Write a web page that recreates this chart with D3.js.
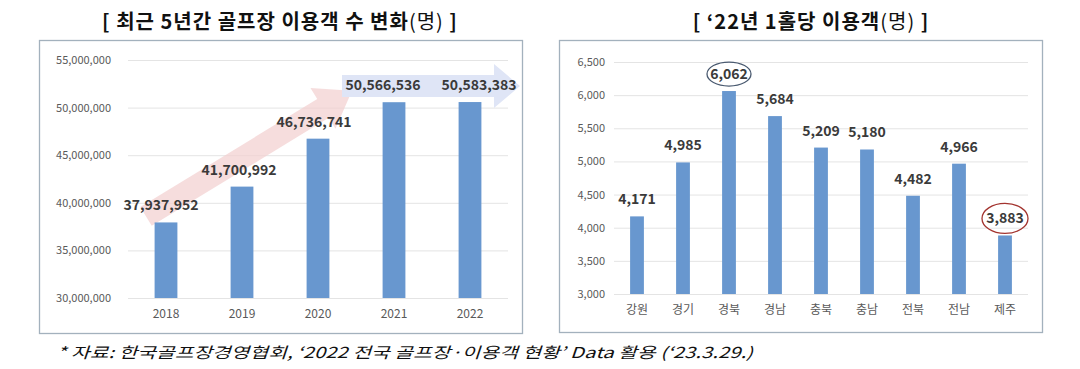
<!DOCTYPE html>
<html>
<head>
<meta charset="utf-8">
<script src="https://cdn.jsdelivr.net/npm/d3@7"></script>
<style>
  body { margin: 0; background: #fff; }
  svg { display: block; font-family: "Noto Sans CJK KR", "Noto Sans", sans-serif; }
</style>
</head>
<body>
<svg id="chart" width="1080" height="369"></svg>
<script>
"use strict";

// left panel: golf course visitors, last 5 years
const years = ["2018", "2019", "2020", "2021", "2022"];
const visitors = [37937952, 41700992, 46736741, 50566536, 50583383];
const visitorTicks = [30000000, 35000000, 40000000, 45000000, 50000000, 55000000];

// right panel: visitors per hole in 2022
const regions = ["강원", "경기", "경북", "경남", "충북", "충남", "전북", "전남", "제주"];
const perHole = [4171, 4985, 6062, 5684, 5209, 5180, 4482, 4966, 3883];
const perHoleTicks = [3000, 3500, 4000, 4500, 5000, 5500, 6000, 6500];

const leftTitle = "[ 최근 5년간 골프장 이용객 수 변화";
const rightTitle = "[ ‘22년 1홀당 이용객";
const footnote = "* 자료: 한국골프장경영협회, ‘2022 전국 골프장·이용객 현황’ Data 활용 (‘23.3.29.)";

const BAR = "#6897cf";
const GRID = "#e4e4e4";
const TICK_TXT = "#595959";
const LABEL_TXT = "#3a3a3a";
const fmt = d3.format(",");

const svg = d3.select("#chart");

function arrowPath(x0, y0, x1, y1, w, hw, hl) {
    const dx = x1 - x0, dy = y1 - y0;
    const len = Math.hypot(dx, dy);
    const ux = dx / len, uy = dy / len;
    const nx = -uy, ny = ux;
    const bx = x1 - ux * hl, by = y1 - uy * hl;
    const pts = [
        [x0 + nx * w, y0 + ny * w],
        [bx + nx * w, by + ny * w],
        [bx + nx * hw, by + ny * hw],
        [x1, y1],
        [bx - nx * hw, by - ny * hw],
        [bx - nx * w, by - ny * w],
        [x0 - nx * w, y0 - ny * w]
    ];
    return "M" + pts.map(p => p.join(",")).join("L") + "Z";
}

function panelFrame(x0, y0, x1, y1) {
    svg.append("rect")
        .attr("x", x0 + 0.5).attr("y", y0 + 0.5)
        .attr("width", x1 - x0).attr("height", y1 - y0)
        .attr("fill", "#fff")
        .attr("stroke", "#a3b1bd")
        .attr("stroke-width", 1.3);
}

function drawTitle(cx, text) {
    const t = svg.append("text")
        .attr("x", cx).attr("y", 29)
        .attr("text-anchor", "middle")
        .attr("font-size", 20)
        .attr("letter-spacing", 1)
        .attr("fill", "#111");
    t.append("tspan").attr("font-weight", 700).text(text);
    t.append("tspan").attr("font-weight", 400).text("(명)");
    t.append("tspan").attr("font-weight", 700).text(" ]");
}

function drawAxes(g, x, y, ticks, left, right, pad) {
    g.append("g")
        .attr("transform", `translate(${left},0)`)
        .call(d3.axisLeft(y).tickValues(ticks).tickSize(-(right - left)).tickPadding(pad).tickFormat(fmt))
        .call(a => a.select(".domain").remove())
        .call(a => a.selectAll("line").attr("stroke", GRID).attr("stroke-width", 1))
        .call(a => a.selectAll("text").attr("fill", TICK_TXT).attr("font-size", 11)
            .attr("font-family", "'Noto Sans CJK KR', sans-serif"));

    g.append("g")
        .attr("transform", `translate(0,${y.range()[0]})`)
        .call(d3.axisBottom(x).tickSize(0).tickPadding(11))
        .call(a => a.select(".domain").remove())
        .call(a => a.selectAll("text").attr("fill", TICK_TXT).attr("font-size", 12)
            .attr("font-family", "'Noto Sans CJK KR', sans-serif"));
}

// ---------- left panel ----------
panelFrame(39, 40, 522, 333);
drawTitle(280, leftTitle);

const xL = d3.scaleBand().domain(years).range([128, 508]).paddingInner(0.7).paddingOuter(0.35);
const yL = d3.scaleLinear().domain([30000000, 55000000]).range([298, 60]);
const gL = svg.append("g");
drawAxes(gL, xL, yL, visitorTicks, 128, 508, 17);

const cxL = d => xL(d) + xL.bandwidth() / 2;

// trend arrows behind the bars
gL.append("path")
    .attr("d", arrowPath(cxL(years[0]) - 20, yL(visitors[0]) - 6,
        cxL(years[2]) + 34, yL(visitors[2]) - 48, 11, 24, 34))
    .attr("fill", "#f2cfcf").attr("opacity", 0.7);
gL.append("path")
    .attr("d", arrowPath(cxL(years[3]) - 52, yL(visitors[4]) - 16,
        xL.range()[1] + 12, yL(visitors[4]) - 16, 11, 22, 26))
    .attr("fill", "#dfe5f6");

gL.selectAll("rect.bar")
    .data(visitors)
    .join("rect").attr("class", "bar")
    .attr("x", (d, i) => xL(years[i]))
    .attr("y", d => yL(d))
    .attr("width", xL.bandwidth())
    .attr("height", d => yL.range()[0] - yL(d))
    .attr("fill", BAR);

const leftLabelShift = [-5, -3, -4, -11, 9];
gL.selectAll("text.val")
    .data(visitors)
    .join("text").attr("class", "val")
    .attr("x", (d, i) => cxL(years[i]) + leftLabelShift[i])
    .attr("y", d => yL(d) - 12)
    .attr("text-anchor", "middle")
    .attr("font-size", 14).attr("font-weight", 700)
    .attr("fill", LABEL_TXT)
    .text(fmt);

// ---------- right panel ----------
panelFrame(559, 40, 1042, 332);
drawTitle(811, rightTitle);

const xR = d3.scaleBand().domain(regions).range([614, 1028]).paddingInner(0.7).paddingOuter(0.35);
const yR = d3.scaleLinear().domain([3000, 6500]).range([294, 62]);
const gR = svg.append("g");
drawAxes(gR, xR, yR, perHoleTicks, 614, 1028, 9);

const cxR = d => xR(d) + xR.bandwidth() / 2;

gR.selectAll("rect.bar")
    .data(perHole)
    .join("rect").attr("class", "bar")
    .attr("x", (d, i) => xR(regions[i]))
    .attr("y", d => yR(d))
    .attr("width", xR.bandwidth())
    .attr("height", d => yR.range()[0] - yR(d))
    .attr("fill", BAR);

gR.selectAll("text.val")
    .data(perHole)
    .join("text").attr("class", "val")
    .attr("x", (d, i) => cxR(regions[i]))
    .attr("y", d => yR(d) - 12)
    .attr("text-anchor", "middle")
    .attr("font-size", 14).attr("font-weight", 700)
    .attr("fill", LABEL_TXT)
    .text(fmt);

// highlight ellipses: max and min
const iMax = perHole.indexOf(d3.max(perHole));
const iMin = perHole.indexOf(d3.min(perHole));
gR.append("ellipse")
    .attr("cx", cxR(regions[iMax])).attr("cy", yR(perHole[iMax]) - 17)
    .attr("rx", 22).attr("ry", 12)
    .attr("fill", "none").attr("stroke", "#4a5a70").attr("stroke-width", 1.3);
gR.append("ellipse")
    .attr("cx", cxR(regions[iMin])).attr("cy", yR(perHole[iMin]) - 17)
    .attr("rx", 23).attr("ry", 15)
    .attr("fill", "none").attr("stroke", "#a3342f").attr("stroke-width", 1.3);

// ---------- footnote ----------
svg.append("text")
    .attr("x", 57).attr("y", 358)
    .attr("font-size", 15)
    .attr("font-style", "italic")
    .attr("fill", "#111")
    .attr("textLength", 696)
    .attr("lengthAdjust", "spacingAndGlyphs")
    .text(footnote);
</script>
</body>
</html>
